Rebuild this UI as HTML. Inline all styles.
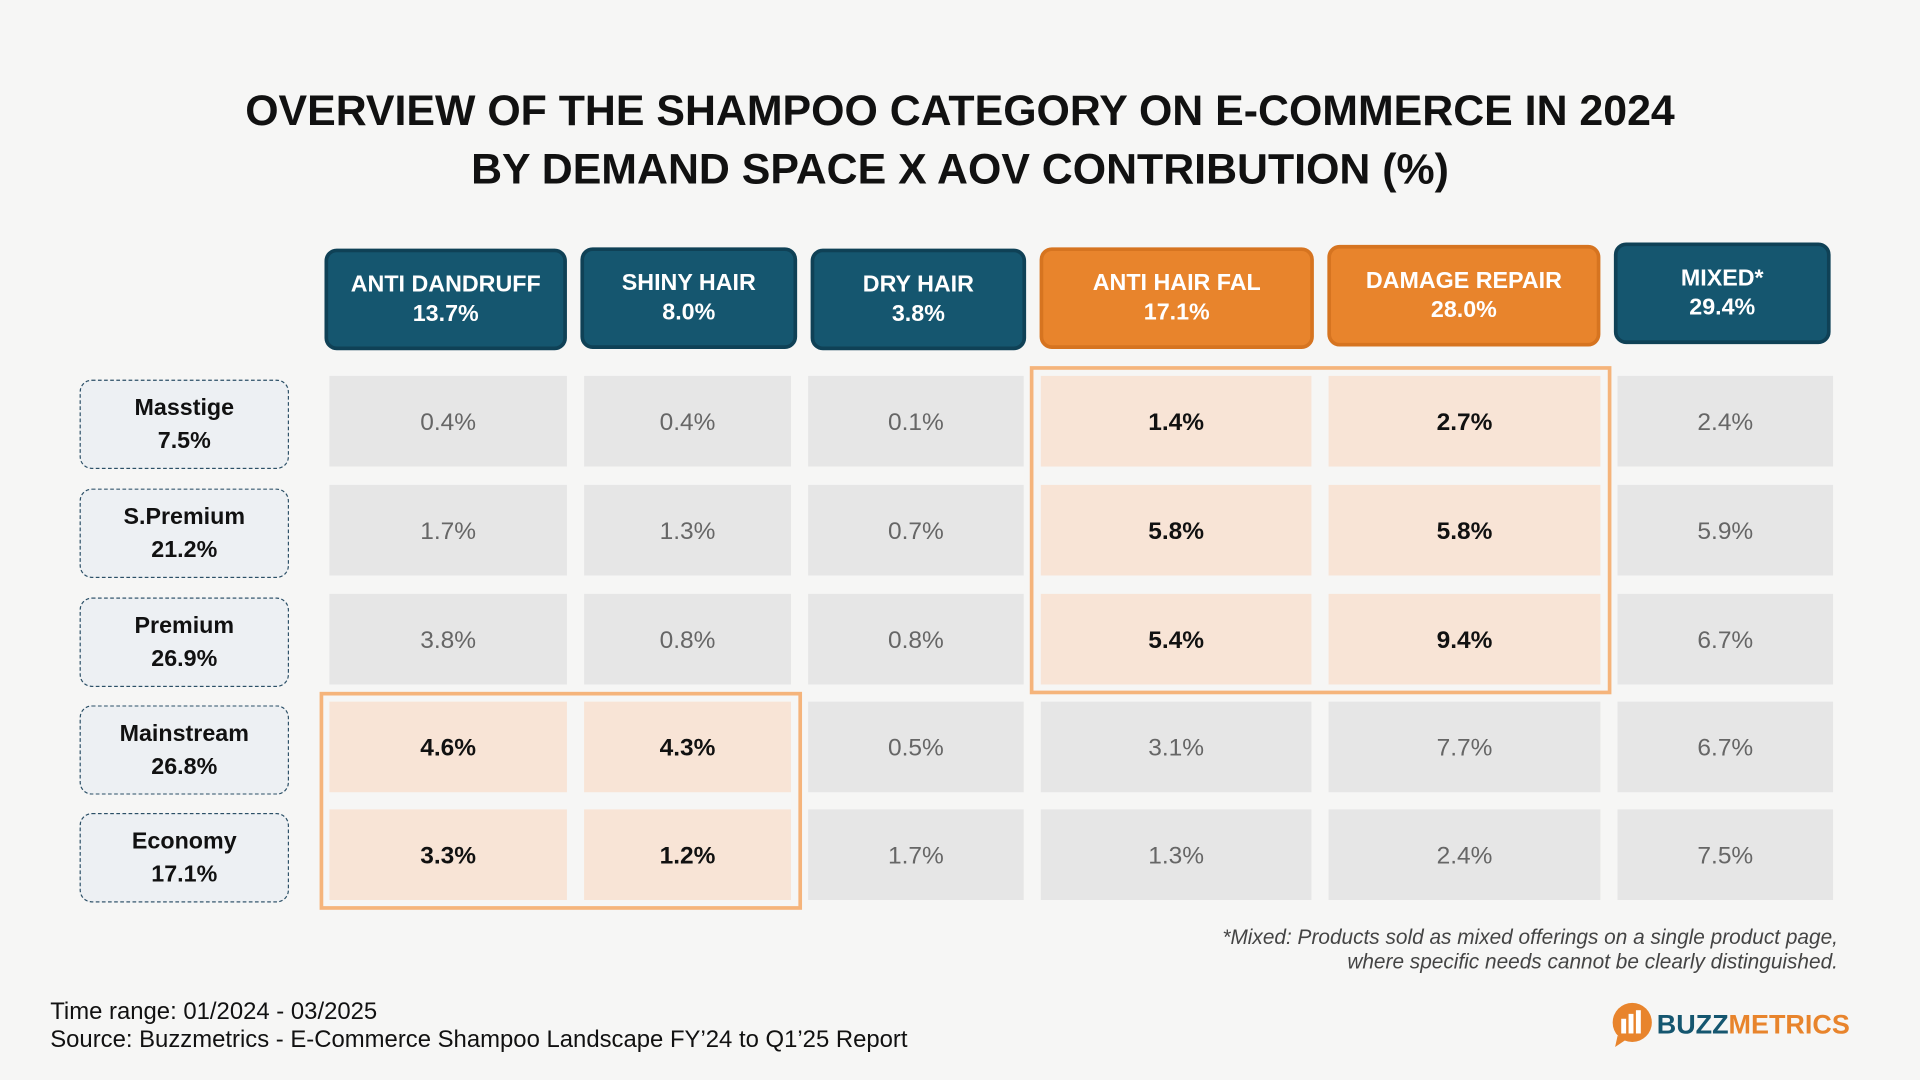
<!DOCTYPE html>
<html><head><meta charset="utf-8">
<style>
html,body{margin:0;padding:0;width:1920px;height:1080px;overflow:hidden;background:#f6f6f5;}
#wrap{position:absolute;left:0;top:0;width:1568px;height:882px;transform:scale(1.22449);transform-origin:0 0;font-family:"Liberation Sans",sans-serif;}
.abs{position:absolute;}
.title{left:0;width:1568px;text-align:center;font-weight:bold;font-size:35px;color:#111;line-height:48px;}
.hdr{position:absolute;border-radius:10px;color:#fff;font-weight:bold;font-size:19px;text-align:center;display:flex;flex-direction:column;justify-content:center;line-height:24px;box-sizing:border-box;}
.blue{background:#15566f;border:3px solid #0f4156;}
.orange{background:#e8842c;border:3px solid #d67420;}
.cell{position:absolute;display:flex;align-items:center;justify-content:center;font-size:20px;padding-top:3px;box-sizing:border-box;}
.rl{position:absolute;border:1.5px dashed #2b4f66;border-radius:10px;background:#edf0f3;box-sizing:border-box;display:flex;flex-direction:column;justify-content:center;text-align:center;font-weight:bold;font-size:19px;line-height:27px;color:#111;}
.hl{position:absolute;border:3px solid #f5b47b;box-sizing:border-box;}
</style></head><body>
<div id="wrap">
<div class="abs title" style="top:67px">OVERVIEW OF THE SHAMPOO CATEGORY ON E-COMMERCE IN 2024<br>BY DEMAND SPACE X AOV CONTRIBUTION (%)</div>
<div id="grid"></div>
<div class="abs" style="right:67px;top:756px;text-align:right;font-style:italic;font-size:17px;color:#444;line-height:20px">*Mixed: Products sold as mixed offerings on a single product page,<br>where specific needs cannot be clearly distinguished.</div>
<div class="abs" style="left:41px;top:815px;font-size:19.5px;color:#111;line-height:23px">Time range: 01/2024 - 03/2025<br>Source: Buzzmetrics - E-Commerce Shampoo Landscape FY’24 to Q1’25 Report</div>
<div class="abs" style="left:1315px;top:818px;height:38px;display:flex;align-items:center">
<svg width="36" height="38" viewBox="0 0 36 38"><circle cx="18" cy="17" r="16" fill="#e8842c"/><path d="M6 28 L4 37 L13 31Z" fill="#e8842c"/><rect x="9" y="14" width="4" height="12" fill="#fff"/><rect x="15" y="10" width="4" height="16" fill="#fff"/><rect x="21" y="7" width="4" height="19" fill="#fff"/></svg>
<span style="font-weight:bold;font-size:22px;color:#15566f;margin-left:2px">BUZZ</span><span style="font-weight:bold;font-size:22px;color:#e8842c">METRICS</span></div>
</div>
<script>
const columns=["ANTI DANDRUFF","SHINY HAIR","DRY HAIR","ANTI HAIR FAL","DAMAGE REPAIR","MIXED*"];
const columnShares=["13.7%","8.0%","3.8%","17.1%","28.0%","29.4%"];
const columnOrange=[false,false,false,true,true,false];
const rows=["Masstige","S.Premium","Premium","Mainstream","Economy"];
const rowShares=["7.5%","21.2%","26.9%","26.8%","17.1%"];
const values=[
[0.4,0.4,0.1,1.4,2.7,2.4],
[1.7,1.3,0.7,5.8,5.8,5.9],
[3.8,0.8,0.8,5.4,9.4,6.7],
[4.6,4.3,0.5,3.1,7.7,6.7],
[3.3,1.2,1.7,1.3,2.4,7.5]];
const highlighted=[
[0,0,0,1,1,0],[0,0,0,1,1,0],[0,0,0,1,1,0],[1,1,0,0,0,0],[1,1,0,0,0,0]];
const colX=[269,477,660,850,1085,1321], colW=[194,169,176,221,222,176];
const hdrX=[265,474,662,849,1084,1318], hdrW=[198,177,176,224,223,177], hdrY=[203,202,203,202,200,198];
const rowY=[307,396,485,573,661], rowH=74;
const g=document.getElementById('grid');
columns.forEach((c,i)=>{
 const d=document.createElement('div');
 d.className='hdr '+(columnOrange[i]?'orange':'blue');
 d.style.cssText=`left:${hdrX[i]}px;top:${hdrY[i]}px;width:${hdrW[i]}px;height:83px`;
 d.innerHTML=`<div>${c}</div><div>${columnShares[i]}</div>`;
 
 
 g.appendChild(d);
});
rows.forEach((r,j)=>{
 const d=document.createElement('div');
 d.className='rl';
 d.style.cssText=`left:65px;top:${rowY[j]+3}px;width:171px;height:73px`;
 d.innerHTML=`<div>${r}</div><div>${rowShares[j]}</div>`;
 
 
 g.appendChild(d);
 columns.forEach((c,i)=>{
  const h=highlighted[j][i];
  const e=document.createElement('div');
  e.className='cell';
  e.style.cssText=`left:${colX[i]}px;top:${rowY[j]}px;width:${colW[i]}px;height:${rowH}px;background:${h?'#f8e4d6':'#e6e6e6'};color:${h?'#111':'#666'};font-weight:${h?'bold':'normal'}`;
  e.textContent=values[j][i].toFixed(1)+'%';
  
  
  g.appendChild(e);
 });
});
const b1=document.createElement('div');b1.className='hl';
b1.style.cssText='left:841px;top:299px;width:475px;height:268px';


g.appendChild(b1);
const b2=document.createElement('div');b2.className='hl';
b2.style.cssText='left:261px;top:565px;width:394px;height:178px';


g.appendChild(b2);
</script>
</body></html>
